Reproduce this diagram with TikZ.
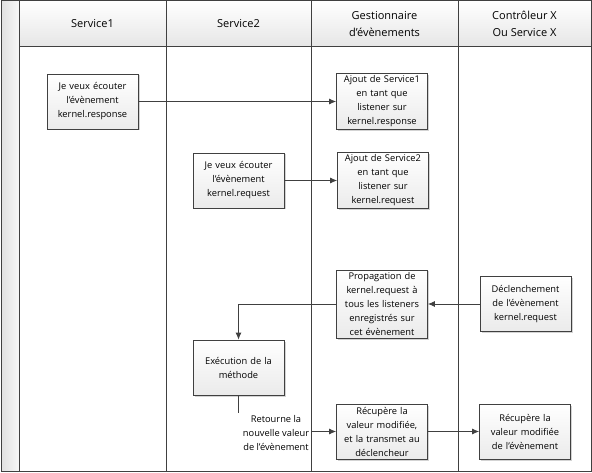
\documentclass[tikz,border=0pt]{standalone}
\usepackage{fontspec}
\setmainfont{Open Sans}
\usetikzlibrary{positioning,arrows.meta,shadows}

\begin{document}
\begin{tikzpicture}[x=1pt, y=-1pt,
    lane/.style={draw=black!75, line width=1pt},
    box/.style={draw=black!75, line width=0.8pt, top color=white, bottom color=black!8,
        align=center, text width=86pt, minimum width=91pt, minimum height=55pt, inner sep=2.5pt,
        font=\fontsize{9.3}{14}\selectfont,
        drop shadow={shadow xshift=1.5pt, shadow yshift=-1.5pt, opacity=0.35}},
    head/.style={align=center, font=\fontsize{11}{17}\selectfont},
    arr/.style={draw=black!75, line width=0.8pt, -{Latex[length=7pt,width=6pt]}}]
    \useasboundingbox (0,0) rectangle (592,473);

    % pool and lanes
    \shade[top color=white, bottom color=black!10] (19,1) rectangle (591,47);
    \shade[left color=black!12, right color=black!3] (1,1) rectangle (19,471);
    \draw[lane] (1,1) rectangle (591,471);
    \draw[lane] (19,1) -- (19,471);
    \draw[lane] (19,47) -- (591,47);
    \foreach \x in {166,311,458}
        \draw[lane] (\x,1) -- (\x,471);

    \node[head] (svc1) at (92.5,24) {Service1};
    \node[head] (svc2) at (238.5,24) {Service2};
    \node[head] (gest) at (384.5,24) {Gestionnaire\\d’évènements};
    \node[head] (ctrl) at (524.5,24) {Contrôleur X\\Ou Service X};

    % steps
    \node[box] (ecouteResp) at (92.5,101.5) {Je veux écouter\\l’évènement\\kernel.response};
    \node[box] (ajoutS1) at (382,101.5) {Ajout de Service1\\en tant que\\listener sur\\kernel.response};
    \node[box] (ecouteReq) at (238.5,180.5) {Je veux écouter\\l’évènement\\kernel.request};
    \node[box] (ajoutS2) at (383,180.5) {Ajout de Service2\\en tant que\\listener sur\\kernel.request};
    \node[box] (propag) at (382,304) {Propagation de\\kernel.request à\\tous les listeners\\enregistrés sur\\cet évènement};
    \node[box] (declench) at (525.5,304) {Déclenchement\\de l’évènement\\kernel.request};
    \node[box] (execution) at (238.5,367.5) {Exécution de la\\méthode};
    \node[box] (recupGest) at (382,431.5) {Récupère la\\valeur modifiée,\\et la transmet au\\déclencheur};
    \node[box] (recupCtrl) at (525,431.5) {Récupère la\\valeur modifiée\\de l’évènement};
    \node[fill=white, align=center, inner sep=2pt, font=\fontsize{9.3}{14}\selectfont] (retour) at (276,433) {Retourne la\\nouvelle valeur\\de l’évènement};

    % connectors
    \draw[arr] (ecouteResp) -- (ajoutS1);
    \draw[arr] (ecouteReq) -- (ajoutS2);
    \draw[arr] (declench) -- (propag);
    \draw[arr] (propag.west) -| (execution.north);
    \draw[draw=black!75, line width=0.8pt] (execution.south) -- (execution.south |- retour.north);
    \draw[arr] (retour.east |- recupGest.west) -- (recupGest.west);
    \draw[arr] (recupGest) -- (recupCtrl);
\end{tikzpicture}
\end{document}
